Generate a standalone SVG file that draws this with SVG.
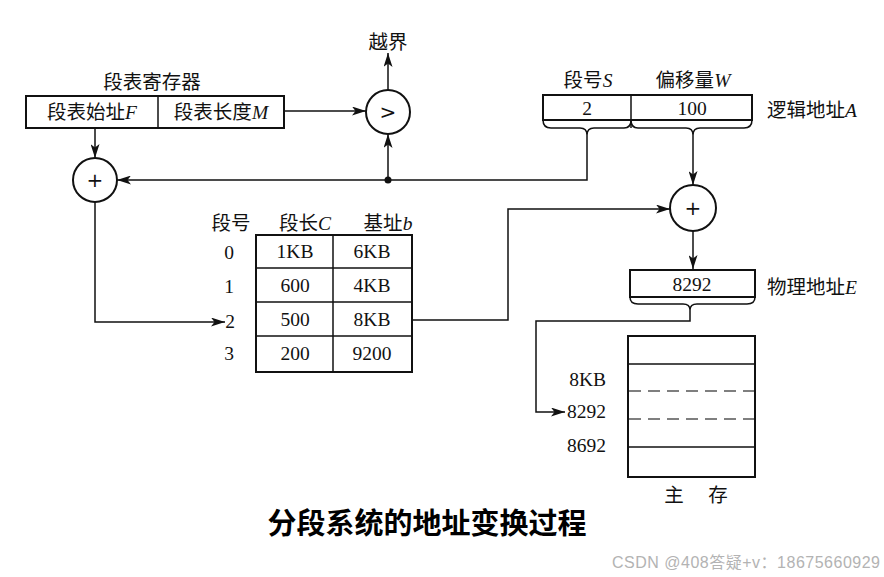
<svg xmlns="http://www.w3.org/2000/svg" width="884" height="577" viewBox="0 0 884 577">
<style>
.t{font-family:"Liberation Serif","Noto Sans CJK SC",serif;font-size:19.5px;fill:#111;text-anchor:middle}
.i{font-style:italic}
.box{fill:#fff;stroke:#111;stroke-width:2}
.ln{fill:none;stroke:#111;stroke-width:1.5}
.c{fill:#fff;stroke:#111;stroke-width:2}
.dash{stroke:#555;stroke-width:1.5;stroke-dasharray:12,7}
.op{font-family:"DejaVu Sans",sans-serif;font-size:20px;fill:#111;text-anchor:middle}
</style>
<defs>
<marker id="ah" viewBox="0 0 14 9" refX="14" refY="4.5" markerWidth="14" markerHeight="9" markerUnits="userSpaceOnUse" orient="auto">
<path d="M0,0 L14,4.5 L0,9 L3.5,4.5 z" fill="#111"/>
</marker>
</defs>
<rect width="884" height="577" fill="#fff"/>

<g id="connectors">
<line class="ln" x1="284" y1="111" x2="366" y2="111" marker-end="url(#ah)"/>
<line class="ln" x1="388" y1="90" x2="388" y2="53" marker-end="url(#ah)"/>
<line class="ln" x1="95" y1="128" x2="95" y2="158" marker-end="url(#ah)"/>
<polyline class="ln" points="587,135 587,180 117,180" marker-end="url(#ah)"/>
<circle cx="388" cy="180" r="3.5" fill="#111"/>
<line class="ln" x1="388" y1="180" x2="388" y2="134" marker-end="url(#ah)"/>
<polyline class="ln" points="95,202 95,322 225,322" marker-end="url(#ah)"/>
<polyline class="ln" points="412,320 508,320 508,209 670,209" marker-end="url(#ah)"/>
<line class="ln" x1="693" y1="135" x2="693" y2="185" marker-end="url(#ah)"/>
<line class="ln" x1="693" y1="231" x2="693" y2="269" marker-end="url(#ah)"/>
<polyline class="ln" points="690,310 690,321 536,321 536,412 565,412" marker-end="url(#ah)"/>
</g>

<g id="overflow">
<text class="t" x="388" y="49">越界</text>
</g>

<g id="segment-register">
<text class="t" x="152" y="89">段表寄存器</text>
<rect class="box" x="26" y="96" width="258" height="32"/>
<line class="ln" x1="158" y1="96" x2="158" y2="128"/>
<text class="t" x="92" y="119">段表始址<tspan class="i">F</tspan></text>
<text class="t" x="221" y="119">段表长度<tspan class="i">M</tspan></text>
</g>

<g id="compare">
<circle class="c" cx="388" cy="112" r="22"/>
<text class="op" x="388" y="119">&gt;</text>
</g>

<g id="adder1">
<circle class="c" cx="95" cy="180" r="22"/>
<text class="op" x="95" y="187">+</text>
</g>

<g id="logical-address">
<text class="t" x="588" y="87">段号<tspan class="i">S</tspan></text>
<text class="t" x="693" y="87">偏移量<tspan class="i">W</tspan></text>
<rect class="box" x="543" y="95" width="209" height="25"/>
<line class="ln" x1="631" y1="95" x2="631" y2="128"/>
<text class="t" x="587" y="115">2</text>
<text class="t" x="692" y="115">100</text>
<path class="ln" d="M543,120 Q543,128 551,128 L580,128 Q587,128 587,135 Q587,128 594,128 L624,128 Q631,128 631,120 Q631,128 638,128 L686,128 Q693,128 693,135 Q693,128 700,128 L744,128 Q752,128 752,120"/>
<text class="t" x="812" y="117">逻辑地址<tspan class="i">A</tspan></text>
</g>

<g id="adder2">
<circle class="c" cx="693" cy="208" r="23"/>
<text class="op" x="693" y="215">+</text>
</g>

<g id="segment-table">
<text class="t" x="231" y="230">段号</text>
<text class="t" x="305" y="230">段长<tspan class="i">C</tspan></text>
<text class="t" x="388" y="230">基址<tspan class="i">b</tspan></text>
<rect class="box" x="256" y="235" width="156" height="137"/>
<line class="ln" x1="333" y1="235" x2="333" y2="372"/>
<line class="ln" x1="256" y1="268" x2="412" y2="268"/>
<line class="ln" x1="256" y1="302" x2="412" y2="302"/>
<line class="ln" x1="256" y1="336" x2="412" y2="336"/>
<text class="t" x="229" y="259">0</text>
<text class="t" x="229" y="293">1</text>
<text class="t" x="230" y="328">2</text>
<text class="t" x="229" y="360">3</text>
<text class="t" x="295" y="258">1KB</text>
<text class="t" x="372" y="258">6KB</text>
<text class="t" x="295" y="292">600</text>
<text class="t" x="372" y="292">4KB</text>
<text class="t" x="295" y="326">500</text>
<text class="t" x="372" y="326">8KB</text>
<text class="t" x="295" y="360">200</text>
<text class="t" x="372" y="360">9200</text>
</g>

<g id="physical-address">
<rect class="box" x="630" y="270" width="125" height="27"/>
<text class="t" x="692" y="291">8292</text>
<path class="ln" d="M630,297 Q630,304 638,304 L683,304 Q690,304 690,310 Q690,304 697,304 L747,304 Q755,304 755,297"/>
<text class="t" x="812" y="294">物理地址<tspan class="i">E</tspan></text>
</g>

<g id="main-memory">
<rect class="box" x="628" y="336" width="127" height="141"/>
<line class="ln" x1="628" y1="364" x2="755" y2="364"/>
<line class="dash" x1="629" y1="391" x2="754" y2="391"/>
<line class="dash" x1="629" y1="419" x2="754" y2="419"/>
<line class="ln" x1="628" y1="447" x2="755" y2="447"/>
<text class="t" x="606" y="386" style="text-anchor:end">8KB</text>
<text class="t" x="606" y="418" style="text-anchor:end">8292</text>
<text class="t" x="606" y="452" style="text-anchor:end">8692</text>
<text class="t" x="674" y="502">主</text>
<text class="t" x="718" y="502">存</text>
</g>

<g id="title">
<text x="427" y="534" style="font-family:'Noto Sans CJK SC',sans-serif;font-size:29px;font-weight:700;text-anchor:middle;fill:#000">分段系统的地址变换过程</text>
</g>
<g id="watermark">
<text x="612" y="568" textLength="268" style="font-family:'Liberation Sans','Noto Sans CJK SC',sans-serif;font-size:16px;fill:#b3b3b3">CSDN @408答疑+v：18675660929</text>
</g>
</svg>
